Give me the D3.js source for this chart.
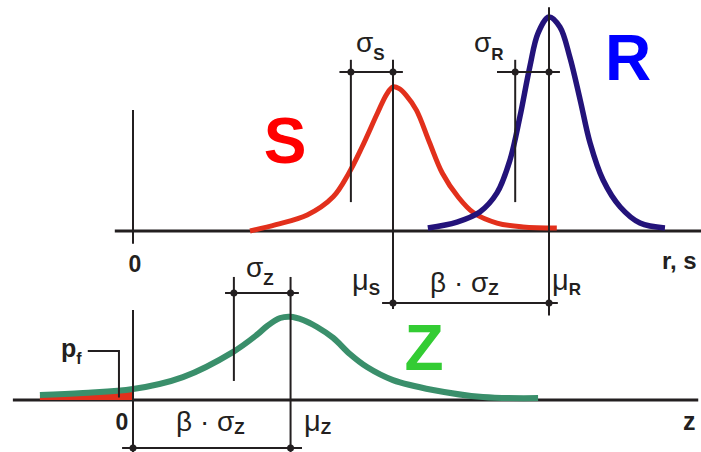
<!DOCTYPE html>
<html>
<head>
<meta charset="utf-8">
<script src="https://cdn.jsdelivr.net/npm/d3@7"></script>
<style>
  html, body { margin: 0; padding: 0; background: #fff; }
  svg { display: block; }
  text { font-family: "Liberation Sans", Arial, sans-serif; }
</style>
</head>
<body>
<svg id="chart" width="701" height="452"></svg>
<script>
// ---------- data (value units) ----------
// S (load) density curve
const sX = [2.25, 2.75, 3.35, 3.85, 4.15, 4.4, 4.7, 4.88, 5.0, 5.12, 5.25, 5.45, 5.7, 5.95, 6.25, 6.55, 7.0, 7.5, 8.15];
const sD = [0.0, 0.03, 0.075, 0.16, 0.27, 0.39, 0.55, 0.64, 0.673, 0.665, 0.635, 0.565, 0.415, 0.27, 0.16, 0.085, 0.037, 0.019, 0.014];
// R (resistance) density curve
const rX = [5.67, 6.23, 6.67, 7.0, 7.25, 7.44, 7.63, 7.79, 8.0, 8.21, 8.4, 8.6, 8.79, 9.04, 9.37, 9.75, 10.23];
const rD = [0.014, 0.042, 0.089, 0.178, 0.332, 0.533, 0.766, 0.925, 1.0, 0.953, 0.813, 0.612, 0.411, 0.238, 0.112, 0.037, 0.014];
// Z = R - S density curve
const zX = [-1.79, -0.96, 0, 0.96, 1.92, 2.38, 2.58, 2.83, 3.02, 3.27, 3.54, 3.85, 4.17, 4.5, 5.0, 5.77, 6.73, 7.79];
const zD = [0.023, 0.033, 0.051, 0.107, 0.224, 0.304, 0.346, 0.383, 0.389, 0.374, 0.341, 0.29, 0.215, 0.154, 0.093, 0.047, 0.014, 0.009];
// parameters
const muS = 5.0, sigS = 0.81;
const muR = 8.0, sigR = 0.65;
const muZ = 3.03, sigZ = 1.09;
// labels
const labelS = "S", labelR = "R", labelZ = "Z";
const axisTopLabel = "r, s", axisBotLabel = "z", zeroLabel = "0";

// ---------- scales ----------
const svg = d3.select("#chart");
const x = d3.scaleLinear().domain([0, 10]).range([133, 653]);
const yTop = d3.scaleLinear().domain([0, 1]).range([231, 17]);
const yBot = d3.scaleLinear().domain([0, 1]).range([400, 186]);

const black = "#231f20";
const redLine = "#e2301c", blueLine = "#23137a", greenLine = "#3a8f6b";

const pts = (xs, ds) => xs.map((v, i) => [v, ds[i]]);
const curve = d3.curveCatmullRom.alpha(0.5);
const lineTop = d3.line().x(d => x(d[0])).y(d => yTop(d[1])).curve(curve);
const lineBot = d3.line().x(d => x(d[0])).y(d => yBot(d[1])).curve(curve);

// ---------- axes ----------
svg.append("line").attr("x1", x(-0.35)).attr("x2", x(10.95)).attr("y1", yTop(0)).attr("y2", yTop(0))
  .attr("stroke", black).attr("stroke-width", 3);
svg.append("line").attr("x1", x(-2.31)).attr("x2", x(10.87)).attr("y1", yBot(0)).attr("y2", yBot(0))
  .attr("stroke", black).attr("stroke-width", 3);

// ---------- failure probability fill ----------
const zPts = pts(zX, zD);
const failPts = zPts.filter(d => d[0] <= 0);
svg.append("path").datum(failPts)
  .attr("d", d3.area().x(d => x(d[0])).y0(yBot(0)).y1(d => yBot(d[1])).curve(curve))
  .attr("fill", "#e2301c");

// ---------- curves ----------
svg.append("path").datum(pts(sX, sD)).attr("d", lineTop)
  .attr("fill", "none").attr("stroke", redLine).attr("stroke-width", 5);
svg.append("path").datum(pts(rX, rD)).attr("d", lineTop)
  .attr("fill", "none").attr("stroke", blueLine).attr("stroke-width", 5.5);
svg.append("path").datum(zPts).attr("d", lineBot)
  .attr("fill", "none").attr("stroke", greenLine).attr("stroke-width", 6);

// ---------- annotation lines ----------
function vline(xv, y1, y2) {
  svg.append("line").attr("x1", x(xv)).attr("x2", x(xv)).attr("y1", y1).attr("y2", y2)
    .attr("stroke", black).attr("stroke-width", 2);
}
function hline(x1, x2, yv) {
  svg.append("line").attr("x1", x(x1)).attr("x2", x(x2)).attr("y1", yv).attr("y2", yv)
    .attr("stroke", black).attr("stroke-width", 2);
}
function dot(xv, yv) {
  svg.append("circle").attr("cx", x(xv)).attr("cy", yv).attr("r", 3.5).attr("fill", black);
}
// top panel
vline(0, yTop(0.565), yTop(-0.06));
vline(muS - sigS, yTop(0.8), yTop(0.135));
vline(muS, yTop(0.8), yTop(-0.365));
vline(muR - sigR, yTop(0.8), yTop(0.135));
vline(muR, yTop(1.045), yTop(-0.395));
hline(muS - sigS - 0.22, muS + 0.19, yTop(0.743));
dot(muS - sigS, yTop(0.743)); dot(muS, yTop(0.743));
hline(muR - sigR - 0.35, muR + 0.21, yTop(0.743));
dot(muR - sigR, yTop(0.743)); dot(muR, yTop(0.743));
hline(muS - 0.21, muR + 0.17, yTop(-0.336));
dot(muS, yTop(-0.336)); dot(muR, yTop(-0.336));

// bottom panel
vline(0, yBot(0.42), yBot(-0.26));
vline(muZ - sigZ, yBot(0.575), yBot(0.089));
vline(muZ, yBot(0.575), yBot(-0.26));
hline(muZ - sigZ - 0.17, muZ + 0.16, yBot(0.5));
dot(muZ - sigZ, yBot(0.5)); dot(muZ, yBot(0.5));
hline(-0.21, muZ + 0.22, yBot(-0.224));
dot(0, yBot(-0.224)); dot(muZ, yBot(-0.224));

// pf leader
svg.append("path")
  .attr("d", `M${x(-0.87)},${yBot(0.229)} H${x(-0.27)} V${yBot(0.012)}`)
  .attr("fill", "none").attr("stroke", black).attr("stroke-width", 2);

// ---------- text ----------
function subLabel(tx, ty, main, sub, opts = {}) {
  const t = svg.append("text").attr("x", tx).attr("y", ty).attr("fill", black);
  t.append("tspan").text(main)
    .attr("font-size", opts.mainSize || 28)
    .attr("font-weight", opts.mainBold ? "bold" : "normal");
  t.append("tspan").text(sub)
    .attr("font-size", opts.subSize || 17).attr("font-weight", "bold")
    .attr("dx", opts.dx || 0)
    .attr("dy", opts.subDy || 8);
  return t;
}
subLabel(356, 52, "σ", "S");
subLabel(474, 52, "σ", "R");
subLabel(352, 290, "μ", "S", { mainSize: 29, subDy: 5 });
subLabel(552, 290, "μ", "R", { mainSize: 29, subDy: 5 });
subLabel(430, 292, "β · σ", "Z", { mainSize: 28, subDy: 3 });
subLabel(246, 277, "σ", "Z");
subLabel(176, 431, "β · σ", "Z", { mainSize: 28, subDy: 3 });
subLabel(304, 431, "μ", "Z", { mainSize: 29, subDy: 3 });
subLabel(61, 357, "p", "f", { mainSize: 25, mainBold: true, subSize: 16, subDy: 7 });

svg.append("text").attr("x", 285).attr("y", 163).attr("text-anchor", "middle")
  .attr("font-size", 64).attr("font-weight", "bold").attr("fill", "#ff0000").text(labelS);
svg.append("text").attr("x", 628).attr("y", 80).attr("text-anchor", "middle")
  .attr("font-size", 64).attr("font-weight", "bold").attr("fill", "#0000ff").text(labelR);
svg.append("text").attr("x", 424).attr("y", 370).attr("text-anchor", "middle")
  .attr("font-size", 64).attr("font-weight", "bold").attr("fill", "#33cc33").text(labelZ);

svg.append("text").attr("x", 135).attr("y", 272).attr("text-anchor", "middle")
  .attr("font-size", 23).attr("font-weight", "bold").attr("fill", black).text(zeroLabel);
svg.append("text").attr("x", 122).attr("y", 430).attr("text-anchor", "middle")
  .attr("font-size", 23).attr("font-weight", "bold").attr("fill", black).text(zeroLabel);
svg.append("text").attr("x", 662).attr("y", 269)
  .attr("font-size", 24).attr("font-weight", "bold").attr("fill", black).text(axisTopLabel);
svg.append("text").attr("x", 683).attr("y", 430)
  .attr("font-size", 25).attr("font-weight", "bold").attr("fill", black).text(axisBotLabel);
</script>
</body>
</html>
